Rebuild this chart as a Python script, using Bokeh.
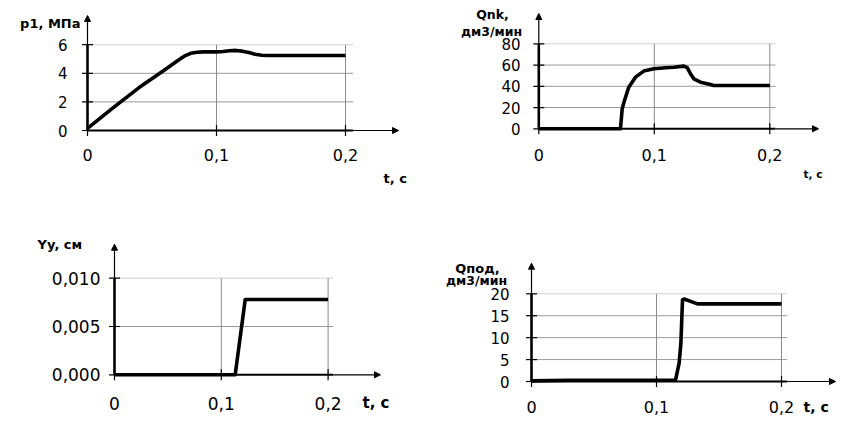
import math
from bokeh.plotting import figure
from bokeh.models import Range1d, Arrow, NormalHead
from bokeh.core.properties import value
from bokeh.layouts import column, row
from bokeh.embed import file_html
from bokeh.resources import INLINE

# ---------------- data ----------------
t_ticks = [0.0, 0.1, 0.2]
t_labels = ["0", "0,1", "0,2"]

p1_t = [0.0, 0.02, 0.04, 0.06, 0.07, 0.075, 0.08, 0.085, 0.09, 0.10, 0.105,
        0.11, 0.115, 0.12, 0.125, 0.13, 0.135, 0.14, 0.20]
p1_v = [0.15, 1.6, 3.0, 4.25, 4.9, 5.2, 5.4, 5.47, 5.5, 5.5, 5.52,
        5.58, 5.6, 5.55, 5.45, 5.33, 5.26, 5.24, 5.24]
p1_ticks = [0, 2, 4, 6]
p1_labels = ["0", "2", "4", "6"]

qnk_t = [0.0, 0.0707, 0.0722, 0.0742, 0.0779, 0.0837, 0.0909, 0.0996, 0.11,
         0.117, 0.1255, 0.1285, 0.1313, 0.1342, 0.14, 0.1487, 0.1515, 0.2]
qnk_v = [0.0, 0.0, 18.8, 26.7, 39.2, 48.6, 54.3, 56.5, 57.5,
         58.0, 59.0, 57.5, 51.8, 47.0, 43.9, 41.7, 40.8, 40.8]
qnk_ticks = [0, 20, 40, 60, 80]
qnk_labels = ["0", "20", "40", "60", "80"]

yy_t = [0.0, 0.113, 0.1224, 0.2]
yy_v = [0.0, 0.0, 0.0078, 0.0078]
yy_ticks = [0.0, 0.005, 0.010]
yy_labels = ["0,000", "0,005", "0,010"]

qpod_t = [0.0, 0.03, 0.1152, 0.1181, 0.1195, 0.1208, 0.1221, 0.1328, 0.2]
qpod_v = [0.15, 0.3, 0.3, 4.2, 8.7, 18.6, 18.8, 17.7, 17.7]
qpod_ticks = [0, 5, 10, 15, 20]
qpod_labels = ["0", "5", "10", "15", "20"]

# ---------------- layout ----------------
FONT = "DejaVu Sans"
BLACK = "#000000"


def panel(box, geo, t, v, yt, yl, titles, xtitle, yfs, xfs, ylab_r, xlab_y):
    fx, fy, fw, fh = box
    dy = geo["dy"]
    ox, sx, sy = geo["ox"], geo["sx"], geo["sy"]
    oy = geo["oy"]

    def X(px):
        return (px - ox) / sx

    def Y(py):  # py in reference pixels
        return (oy - py) / sy

    xr = Range1d(X(fx), X(fx + fw))
    yr = Range1d(Y(fy + fh - dy), Y(fy - dy))
    p = figure(width=fw, height=fh, x_range=xr, y_range=yr,
               output_backend="svg", toolbar_location=None, title=None,
               x_axis_location=None, y_axis_location=None,
               min_border=0, min_border_left=0, min_border_right=0,
               min_border_top=0, min_border_bottom=0)
    p.outline_line_color = None
    p.xgrid.visible = False
    p.ygrid.visible = False

    x_grid_end = X(geo["grid_r"])
    y_top = yt[-1]
    # horizontal grid
    hy = yt[1:]
    p.segment(x0=[0] * len(hy), y0=hy, x1=[x_grid_end] * len(hy), y1=hy,
              line_color=["#9a9a9a"] * (len(hy) - 1) + ["#d0d0d0"], line_width=1)
    # vertical grid
    vx = t_ticks[1:]
    p.segment(x0=vx, y0=[0] * len(vx), x1=vx, y1=[y_top] * len(vx),
              line_color="#8a8a8a", line_width=1)
    # tick marks
    p.scatter(x=[0] * len(yt), y=yt, marker="dash", size=11,
              line_color=BLACK, line_width=1.2)
    p.scatter(x=t_ticks, y=[0] * len(t_ticks), marker="dash", size=11,
              angle=math.pi / 2, line_color=BLACK, line_width=1.2)
    # axes
    p.line([0, 0], [0, y_top], line_color=BLACK, line_width=2.6)
    p.line([0, x_grid_end], [0, 0], line_color=BLACK, line_width=2)
    p.add_layout(Arrow(end=NormalHead(size=6, line_color=BLACK, fill_color=BLACK, line_width=1),
                       x_start=0, y_start=y_top, x_end=0, y_end=Y(geo["ay_top"]),
                       line_color=BLACK, line_width=1.2))
    p.add_layout(Arrow(end=NormalHead(size=6, line_color=BLACK, fill_color=BLACK, line_width=1),
                       x_start=x_grid_end, y_start=0, x_end=X(geo["ax_end"]), y_end=0,
                       line_color=BLACK, line_width=1.2))
    # tick labels
    p.text(x=[X(ylab_r)] * len(yt), y=yt, text=yl, text_align="right",
           text_baseline="middle", text_font=value(FONT),
           text_font_size=f"{yfs}px", text_color=BLACK)
    p.text(x=t_ticks, y=[Y(xlab_y)] * len(t_ticks), text=t_labels, text_align="center",
           text_baseline="middle", text_font=value(FONT),
           text_font_size=f"{xfs}px", text_color=BLACK)
    # data
    p.line(t, v, line_color=BLACK, line_width=3.6, line_join="round")

    # titles
    for text, px, py, align, fs in titles + [xtitle]:
        p.text(x=[X(px)], y=[Y(py)], text=[text], text_align=align,
               text_baseline="middle", text_font=value(FONT),
               text_font_style="bold", text_font_size=f"{fs}px", text_color=BLACK)
    return p


g1 = dict(ox=87, oy=130, sx=1290, sy=14.3, ax_end=398, ay_top=15, grid_r=352.7, dy=0)
g2 = dict(ox=538.3, oy=128.3, sx=1155, sy=1.0625, ax_end=818, ay_top=13, grid_r=775, dy=0)
g3 = dict(ox=114, oy=377.3, sx=1068, sy=9660, ax_end=380, ay_top=246.7, grid_r=332.7, dy=-3)
g4 = dict(ox=531, oy=385, sx=1250, sy=4.385, ax_end=835, ay_top=266.7, grid_r=786.7, dy=-4)

f1 = panel((0, 0, 425, 209), g1, p1_t, p1_v, p1_ticks, p1_labels,
           [("p1, МПа", 80, 23, "right", 13)], ("t, с", 383, 178, "left", 13),
           15, 16, 67, 154.5)
f2 = panel((425, 0, 424, 209), g2, qnk_t, qnk_v, qnk_ticks, qnk_labels,
           [("Qnk,", 492, 14, "center", 12.5), ("дм3/мин", 491, 30.5, "center", 12.5)],
           ("t, с", 803, 173, "left", 10.5),
           15, 16, 520, 154.5)
f3 = panel((0, 209, 425, 210), g3, yy_t, yy_v, yy_ticks, yy_labels,
           [("Yy, см", 37, 247, "left", 13)], ("t, с", 362, 405, "left", 15),
           17, 17, 100, 405.5)
f4 = panel((425, 209, 424, 210), g4, qpod_t, qpod_v, qpod_ticks, qpod_labels,
           [("Qпод,", 477, 271.5, "center", 13), ("дм3/мин", 476, 284, "center", 12.5)],
           ("t, с", 803, 410, "left", 14),
           15, 16, 509, 410.5)

layout = column(row(f1, f2), row(f3, f4))
open("out.html", "w").write(file_html(layout, INLINE))
